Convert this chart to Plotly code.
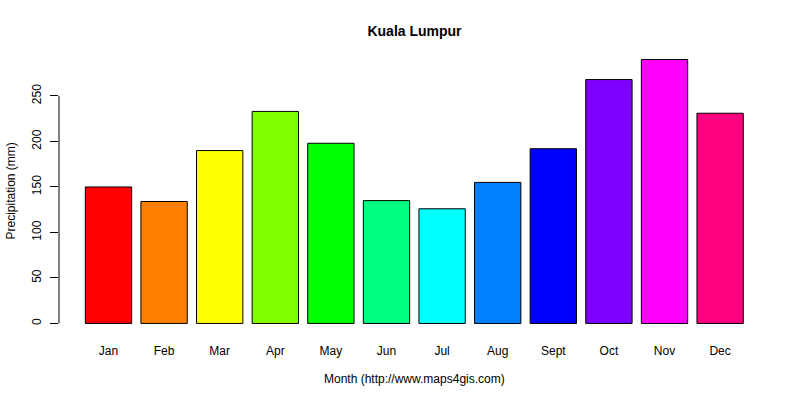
#!/usr/bin/env python3
# -*- coding: utf-8 -*-
"""Monthly precipitation bar chart for Kuala Lumpur, R barplot look"""

import plotly.graph_objects as go

months = ["Jan", "Feb", "Mar", "Apr", "May", "Jun",
          "Jul", "Aug", "Sept", "Oct", "Nov", "Dec"]
precip = [150, 134, 190, 233, 198, 135, 126, 155, 192, 268, 290, 231]
# rainbow(12)
colors = ["#FF0000", "#FF8000", "#FFFF00", "#80FF00", "#00FF00", "#00FF80",
          "#00FFFF", "#0080FF", "#0000FF", "#8000FF", "#FF00FF", "#FF0080"]
ytick_vals = [0, 50, 100, 150, 200, 250]

FONT = "Liberation Sans, Arial, sans-serif"

fig = go.Figure()
fig.add_trace(go.Bar(x=months, y=precip,
                     marker=dict(color=colors, line=dict(color="black", width=1)),
                     showlegend=False, hoverinfo="skip"))

# R draws the y axis line only between first and last tick
fig.add_shape(type="line", xref="paper", yref="y",
              x0=0, x1=0, y0=ytick_vals[0], y1=ytick_vals[-1],
              line=dict(color="black", width=1))

fig.update_layout(
    width=800, height=400,
    autosize=False,
    plot_bgcolor="white", paper_bgcolor="white",
    margin=dict(l=59, r=30, t=49, b=66),
    bargap=1 - 1 / 1.2,
    font=dict(family=FONT, size=12, color="black"),
    title=dict(text="<b>Kuala Lumpur</b>", x=414.5 / 800, xanchor="center",
               y=1 - 31 / 400, yanchor="middle",
               font=dict(family=FONT, size=14, color="black")),
    xaxis=dict(range=[-0.89, 11.897], showline=False, showgrid=False,
               zeroline=False, ticks="", ticklabelstandoff=8,
               tickfont=dict(size=12), fixedrange=True),
    yaxis=dict(range=[-11.6, 301.6], showline=False, showgrid=False,
               zeroline=False, tickvals=ytick_vals, ticks="outside",
               ticklen=8, tickcolor="black", tickwidth=1, tickangle=-90,
               ticklabelstandoff=4, tickfont=dict(size=12), fixedrange=True),
    annotations=[
        dict(text="Month (http://www.maps4gis.com)", xref="paper", yref="paper",
             x=0.5, y=0, yshift=-45, xanchor="center", yanchor="middle",
             showarrow=False, font=dict(size=12)),
        dict(text="Precipitation (mm)", xref="paper", yref="paper",
             x=0, y=0.5, xshift=-49, textangle=-90, xanchor="center",
             yanchor="middle", showarrow=False, font=dict(size=12)),
    ],
)

# drop the default 8px body margin so the figure sits at the page corner
fig.write_html("out.html", config={"displayModeBar": False},
               post_script="document.body.style.margin = '0';")
